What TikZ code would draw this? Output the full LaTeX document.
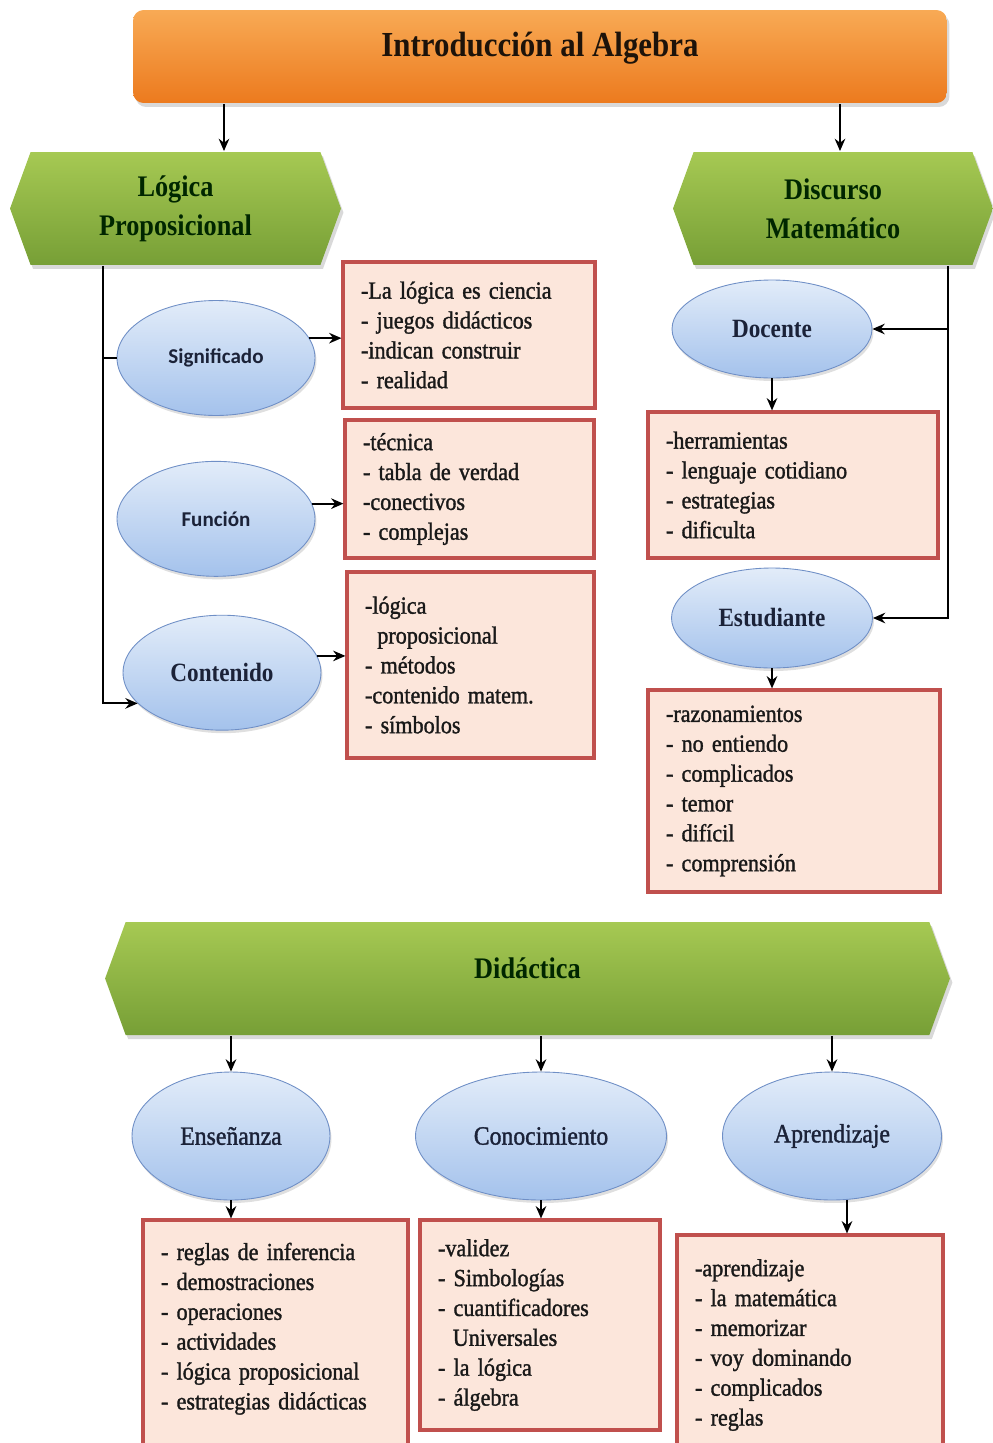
\documentclass[tikz,border=0pt]{standalone}
\usepackage{fontspec}
\setmainfont{Liberation Serif}[FakeStretch=0.88]
\newfontfamily\cajafont{Liberation Serif}[FakeStretch=0.9,FakeBold=1.3]
\newfontfamily\calfont{Carlito}
\usetikzlibrary{arrows.meta,positioning,shapes.geometric,shapes.symbols,shadows}
\definecolor{naranjaA}{HTML}{F8AA55}
\definecolor{naranjaB}{HTML}{EC7A1E}
\definecolor{verdeA}{HTML}{A6C953}
\definecolor{verdeB}{HTML}{779F36}
\definecolor{azulA}{HTML}{E2ECF9}
\definecolor{azulB}{HTML}{A4C2EC}
\definecolor{azulborde}{HTML}{6F8FC6}
\definecolor{rosa}{HTML}{FCE6DB}
\definecolor{rojoborde}{HTML}{C0504D}
\definecolor{tinta}{HTML}{1B2238}
\begin{document}
\begin{tikzpicture}[x=0.02cm,y=-0.02cm,->,>={Stealth[length=7pt,width=6pt]},line width=1.1pt,
  sombra/.style={drop shadow={opacity=0.3,shadow xshift=0.5mm,shadow yshift=-0.8mm}},
  titulo/.style={rectangle,rounded corners=6pt,top color=naranjaA,bottom color=naranjaB,sombra,
    minimum width=16.28cm,minimum height=1.86cm,text height=0.5cm,text depth=0.5cm,
    text=black!85!brown,font=\bfseries\fontsize{20}{24}\selectfont},
  rama/.style={signal,signal to=west and east,signal pointer angle=140,top color=verdeA,
    bottom color=verdeB,sombra,minimum height=2.26cm,align=center,text=green!15!black,
    font=\bfseries\fontsize{17}{22}\selectfont},
  burbuja/.style={ellipse,draw=azulborde,line width=0.5pt,top color=azulA,bottom color=azulB,
    inner sep=0pt,minimum width=3.96cm,minimum height=2.3cm,text=tinta,
    drop shadow={opacity=0.25,shadow xshift=0.3mm,shadow yshift=-0.6mm},
    font=\cajafont\fontsize{15}{18}\selectfont},
  negrita/.style={font=\bfseries\fontsize{15}{18}\selectfont},
  sans/.style={font=\calfont\bfseries\fontsize{12}{14}\selectfont},
  lista/.style={rectangle,draw=rojoborde,line width=1.8pt,fill=rosa,align=left,inner xsep=0.36cm,
    drop shadow={opacity=0.25,shadow xshift=0.4mm,shadow yshift=-0.5mm},
    text=black!90,font=\cajafont\fontsize{14}{17}\selectfont}]
  \useasboundingbox (0,0) rectangle (993,1443);
  \clip (0,0) rectangle (993,1443);

  \node[titulo] (intro) at (540,56.5) {Introducción al Algebra};
  \node[rama,minimum width=6.62cm] (logica) at (175.5,208.5) {Lógica\\Proposicional};
  \node[rama,minimum width=6.4cm] (discurso) at (833,208.5) {Discurso\\Matemático};

  \node[burbuja,sans] (signif) at (216,358) {Significado};
  \node[burbuja,sans] (funcion) [below=0.9cm of signif] {Función};
  \node[burbuja,negrita] (conten) [below=0.76cm of funcion,xshift=0.12cm] {Contenido};

  \node[lista,text width=4.32cm,minimum height=2.92cm] (box1) at (469,335)
    {-La lógica es ciencia\\- juegos didácticos\\-indican construir\\- realidad};
  \node[lista,text width=4.26cm,minimum height=2.76cm] (box2) at (469.5,489)
    {-técnica\\- tabla de verdad\\-conectivos\\- complejas};
  \node[lista,text width=4.22cm,minimum height=3.72cm] (box3) at (470.5,665)
    {-lógica\\\hspace*{0.5em}proposicional\\- métodos\\-contenido matem.\\- símbolos};

  \node[burbuja,negrita,minimum width=4cm,minimum height=1.96cm] (docente) at (772,329) {Docente};
  \node[lista,text width=5.08cm,minimum height=2.92cm] (boxdoc) at (793,485)
    {-herramientas\\- lenguaje cotidiano\\- estrategias\\- dificulta};
  \node[burbuja,negrita,minimum width=4.02cm,minimum height=2cm] (estud) at (772,618) {Estudiante};
  \node[lista,text width=5.12cm,minimum height=4.04cm] (boxest) at (794,791)
    {-razonamientos\\- no entiendo\\- complicados\\- temor\\- difícil\\- comprensión};

  \node[rama,minimum width=16.9cm,text height=0.5cm,text depth=0.5cm] (didac) at (527.5,978.5) {Didáctica};

  \node[burbuja,minimum height=2.56cm] (ensen) at (231,1136) {Enseñanza};
  \node[burbuja,minimum width=5.02cm,minimum height=2.56cm] (conoc) at (541,1136) {Conocimiento};
  \node[burbuja,minimum width=4.38cm,minimum height=2.56cm] (aprend) at (832,1136) {Aprendizaje};

  \node[lista,text width=4.58cm,minimum height=4.84cm] (b1) at (275.5,1341)
    {- reglas de inferencia\\- demostraciones\\- operaciones\\- actividades\\- lógica proposicional\\- estrategias didácticas\\\mbox{}};
  \node[lista,text width=4.08cm,minimum height=4.2cm] (b2) at (540,1325)
    {-validez\\- Simbologías\\- cuantificadores\\\hspace*{0.6em}Universales\\- la lógica\\- álgebra};
  \node[lista,text width=4.6cm,minimum height=4.4cm] (b3) at (810,1345)
    {-aprendizaje\\- la matemática\\- memorizar\\- voy dominando\\- complicados\\- reglas};

  \coordinate (lspine) at ([xshift=-1.45cm]logica.south);
  \coordinate (rspine) at ([xshift=2.3cm]discurso.south);

  \draw ([xshift=0.97cm]logica.north |- intro.south) -- ([xshift=0.97cm]logica.north);
  \draw ([xshift=0.14cm]discurso.north |- intro.south) -- ([xshift=0.14cm]discurso.north);
  \draw (lspine) |- (conten.200);
  \draw[-] (lspine |- signif.west) -- (signif.west);
  \draw (rspine) |- (estud.east);
  \draw (rspine |- docente.east) -- (docente.east);

  \path (signif.12) edge (signif.12 -| box1.west)
        (funcion.9) edge (funcion.9 -| box2.west)
        (conten.10) edge (conten.10 -| box3.west)
        (docente.south) edge (docente.south |- boxdoc.north)
        (estud.south) edge (estud.south |- boxest.north)
        (ensen.north |- didac.south) edge (ensen.north)
        (conoc.north |- didac.south) edge (conoc.north)
        (aprend.north |- didac.south) edge (aprend.north)
        (ensen.south) edge (ensen.south |- b1.north)
        (conoc.south) edge (conoc.south |- b2.north)
        ([xshift=0.3cm]aprend.south) edge ([xshift=0.3cm]aprend.south |- b3.north);
\end{tikzpicture}
\end{document}
